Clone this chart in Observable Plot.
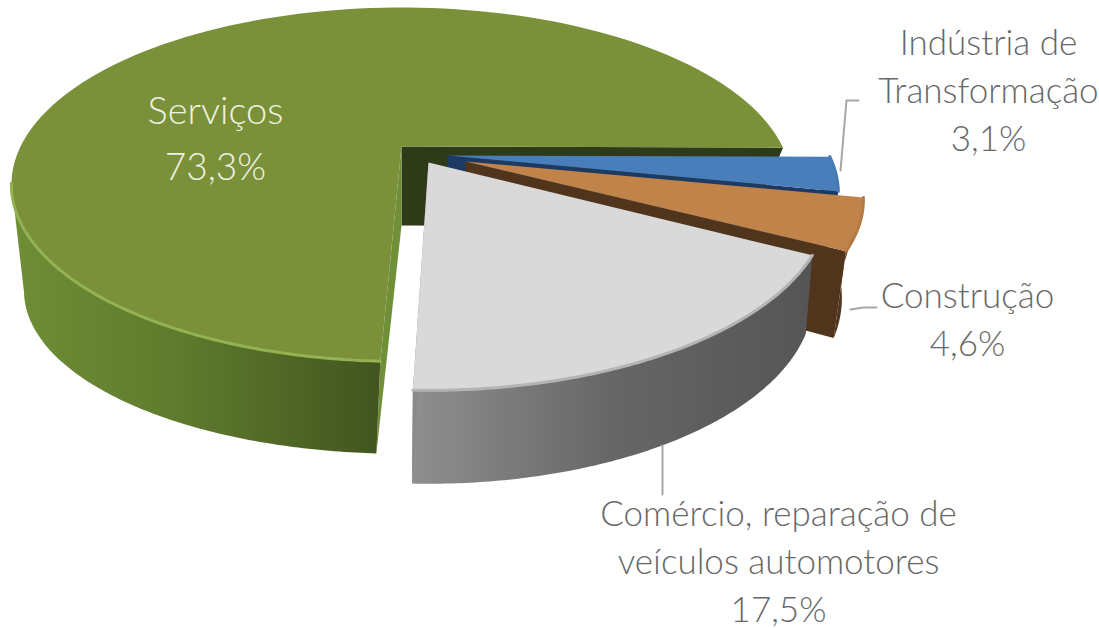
<!DOCTYPE html>
<html><head><meta charset="utf-8">
<style>html,body{margin:0;background:#fff}svg{display:block}</style>
<script src="https://cdn.jsdelivr.net/npm/d3@7"></script>
<script src="https://cdn.jsdelivr.net/npm/@observablehq/plot@0.6"></script>
</head><body><script>
const categories = ["Serviços","Indústria de\nTransformação","Construção","Comércio, reparação de\nveículos automotores"];
const shares = [73.3, 3.1, 4.6, 17.5];
const shareLabels = ["73,3%","3,1%","4,6%","17,5%"];
const startAngle = 182.5;
const apexX = [401, 447, 465, 428];
const apexY = [146, 155, 161, 162];
const scaleX = [1, 1.002, 1.02, 1.025];
const scaleY = [1, 1, 1, 1.06];
const rotate = [0, 0, 0, -0.7];
const bottomK = [0.4, 0.3, 0.3, 0.3];
const bottomA = [137, 160, 175, 160];
const bottomB = [346, 358, 352, 358];
const topColors = ["#7a913a","#4a7ebb","#c0834a","#d9d9d9"];
const rimColors = ["#93b252","#457ab6","#b27a44","#b4b4b4"];
const sideColors = ["url(#wallGreen)","#1d3a63","#50341c","url(#wallGrey)"];
const cutColors = ["#6f8f38","#1d3a63","#50341c","#8a8a8a"];
const labelX = [215, 988, 967, 778];
const labelY = [140, 87, 316, 558];
const labelFill = ["#eef1e2","#686868","#686868","#686868"];
const leaderX = [[840,846,858],[850,863,876],[662,662]];
const leaderY = [[170,100,100],[309,307,307],[445,494]];

const K = 0.2147, A = 168.8, B = 381, T = 79;
const total = d3.sum(shares);
function pt(i, deg, r, bottom) {
  const a = (deg + rotate[i]) * Math.PI / 180, u = r * Math.sin(a), v = r * Math.cos(a);
  const w = 1 + (bottom ? bottomK[i] : K) * v;
  return bottom
    ? {x: apexX[i] + scaleX[i] * bottomB[i] * u / w, y: apexY[i] + T - scaleY[i] * bottomA[i] * v / w}
    : {x: apexX[i] + scaleX[i] * B * u / w, y: apexY[i] - scaleY[i] * A * v / w};
}
function arc(i, a0, a1, bottom) { return d3.range(0, 121).map(k => pt(i, a0 + (a1 - a0) * k / 120, 1, bottom)); }
let cur = startAngle;
const spans = shares.map(s => { const a0 = cur; cur += s / total * 360; return [a0, cur]; });
const fillLine = (pts, fill) => Plot.line(pts, {x:"x", y:"y", fill, stroke:"none", curve:"linear"});
const quad = (i, deg) => [pt(i,deg,0,false), pt(i,deg,1,false), pt(i,deg,1,true), pt(i,deg,0,true)];

const defs = () => {
  const s = d3.create("svg:defs");
  const grad = (id, stops) => {
    const g = s.append("linearGradient").attr("id", id).attr("x1",0).attr("x2",1).attr("y1",0).attr("y2",0);
    stops.forEach(([o,c]) => g.append("stop").attr("offset",o).attr("stop-color",c));
  };
  grad("wallGreen", [[0,"#6f8e36"],[0.45,"#5f7b2d"],[1,"#42551f"]]);
  grad("wallGrey", [[0,"#8f8f8f"],[0.5,"#666666"],[1,"#555555"]]);
  return s.node();
};

const marks = [defs];
const silhouetteTop = 258, silhouetteBottom = 246;
marks.push(fillLine(quad(0, spans[0][1]), "#2f3a18"));
marks.push(fillLine(quad(0, spans[0][0]), cutColors[0]));
marks.push(fillLine([...arc(0, spans[0][0], silhouetteTop, false), ...arc(0, spans[0][0], silhouetteBottom, true).reverse()], sideColors[0]));
marks.push(fillLine([pt(0,0,0,false), ...arc(0, spans[0][0], spans[0][1], false)], topColors[0]));
marks.push(Plot.line(arc(0, spans[0][0], silhouetteTop, false), {x:"x", y:"y", stroke:rimColors[0], strokeWidth:3}));
[1,2,3].forEach(i => {
  const [a0,a1] = spans[i];
  marks.push(fillLine([...arc(i,a0,a1,false), ...arc(i,a0,a1,true).reverse()], sideColors[i]));
  marks.push(fillLine(quad(i, a1), cutColors[i]));
  marks.push(fillLine([pt(i,0,0,false), ...arc(i,a0,a1,false)], topColors[i]));
  marks.push(Plot.line(arc(i,a0,a1,false), {x:"x", y:"y", stroke:rimColors[i], strokeWidth:3}));
});
leaderX.forEach((xs,j) => marks.push(Plot.line(xs.map((x,k)=>({x,y:leaderY[j][k]})), {x:"x",y:"y",stroke:"#a6a6a6",strokeWidth:2})));
const labels = categories.map((c,i) => ({t:c+"\n"+shareLabels[i], x:labelX[i], y:labelY[i], f:labelFill[i]})).slice(1);
marks.push(Plot.text(labels, {x:"x", y:"y", text:"t", fill:"f", fontSize:35, fontWeight:300, lineHeight:1.38, fontFamily:"Lato, sans-serif", textAnchor:"middle"}));
marks.push(Plot.text([{t:categories[0], x:labelX[0], y:111}], {x:"x", y:"y", text:"t", fill:labelFill[0], fontSize:38, fontWeight:300, fontFamily:"Lato, sans-serif"}));
marks.push(Plot.text([{t:shareLabels[0], x:labelX[0], y:168}], {x:"x", y:"y", text:"t", fill:labelFill[0], fontSize:37, fontWeight:300, fontFamily:"Lato, sans-serif"}));

document.body.append(Plot.plot({
  width:1099, height:628, margin:0,
  x:{domain:[0,1099], range:[0,1099], axis:null},
  y:{domain:[0,628], range:[0,628], axis:null},
  color:{type:"identity"},
  marks
}));
</script></body></html>
